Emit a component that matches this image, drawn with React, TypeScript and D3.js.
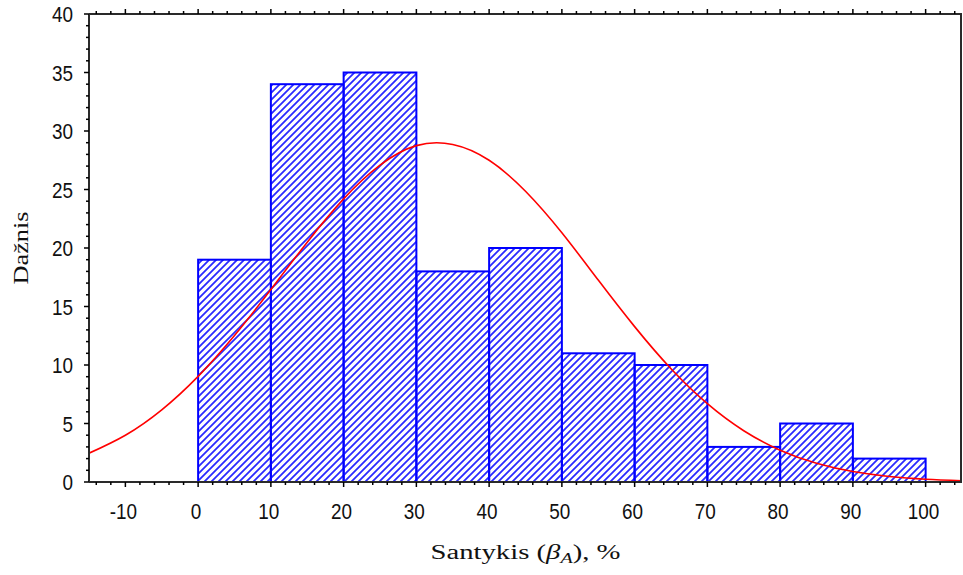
import React from "react";
import * as d3 from "d3";

const binStarts = [0, 10, 20, 30, 40, 50, 60, 70, 80, 90];
const binCounts = [19, 34, 35, 18, 20, 11, 10, 3, 5, 2];
const binWidth = 10;

const curveX = [-15, -10, -5, 0, 5, 10, 15, 20, 25, 30, 35, 40, 45, 50, 55, 60, 65, 70, 75, 80, 85, 90, 95, 100, 105];
const curveY = [2.46, 4.0, 6.17, 9.03, 12.52, 16.45, 20.5, 24.2, 27.08, 28.75, 28.85, 27.5, 24.85, 21.3, 17.26, 13.28, 9.68, 6.69, 4.38, 2.72, 1.6, 0.89, 0.47, 0.24, 0.11];

const xTicks = [-10, 0, 10, 20, 30, 40, 50, 60, 70, 80, 90, 100];
const yTicks = [0, 5, 10, 15, 20, 25, 30, 35, 40];

const W = 963;
const H = 575;
const L = 89;
const R = 962;
const T = 14;
const B = 482;

export default function App() {
  const x = d3.scaleLinear().domain([-15, 105]).range([L, R]);
  const y = d3.scaleLinear().domain([0, 40]).range([B, T]);

  const line = d3
    .line<number>()
    .x((_, i) => x(curveX[i]))
    .y((d) => y(d))
    .curve(d3.curveNatural);

  const xMinor = d3.range(-14, 105, 2);
  const yMinor = d3.range(0, 41, 1);
  const axisColor = "#2a2a2a";
  const tickFont = "'Liberation Sans', Arial, sans-serif";
  const serif = "'Liberation Serif', 'Times New Roman', serif";

  return (
    <svg width={W} height={H} style={{ position: "absolute", left: 0, top: 0, background: "#fff" }}>
      <defs>
        <pattern id="hatch" patternUnits="userSpaceOnUse" width={7} height={7}>
          <path d="M-1,1 l2,-2 M0,7 l7,-7 M6,8 l2,-2" stroke="#2a2aff" strokeWidth={1.8} />
        </pattern>
        <clipPath id="plotclip">
          <rect x={L} y={T} width={R - L} height={B - T} />
        </clipPath>
      </defs>
      <rect x={0} y={0} width={W} height={H} fill="#fff" />

      {/* bars */}
      {binStarts.map((s, i) => (
        <rect
          key={s}
          x={x(s)}
          y={y(binCounts[i])}
          width={x(s + binWidth) - x(s)}
          height={y(0) - y(binCounts[i])}
          fill="url(#hatch)"
          stroke="#0000ff"
          strokeWidth={2}
        />
      ))}

      {/* normal curve */}
      <path
        d={line(curveY) || ""}
        fill="none"
        stroke="#ff0000"
        strokeWidth={1.6}
        clipPath="url(#plotclip)"
      />

      {/* axes frame */}
      <line x1={L} x2={R} y1={T} y2={T} stroke={axisColor} strokeWidth={2} />
      <line x1={L} x2={R} y1={B} y2={B} stroke={axisColor} strokeWidth={2} />
      <line x1={L} x2={L} y1={T} y2={B} stroke={axisColor} strokeWidth={2} />
      <line x1={R - 1} x2={R - 1} y1={T} y2={B} stroke={axisColor} strokeWidth={2} />

      {/* x ticks top and bottom */}
      {xMinor.map((v) => {
        const major = v % 10 === 0;
        const len = major ? 5 : 3;
        return (
          <g key={"xt" + v}>
            <line x1={x(v)} x2={x(v)} y1={T} y2={T - len} stroke="#000" strokeWidth={1.5} />
            <line x1={x(v)} x2={x(v)} y1={B} y2={B + len} stroke="#000" strokeWidth={1.5} />
          </g>
        );
      })}

      {/* y ticks left */}
      {yMinor.map((v) => {
        const major = v % 5 === 0;
        const len = major ? 5 : 3;
        return (
          <line key={"yt" + v} x1={L} x2={L - len} y1={y(v)} y2={y(v)} stroke="#000" strokeWidth={1.5} />
        );
      })}

      {/* x tick labels */}
      {xTicks.map((v) => (
        <g key={"xl" + v} transform={`translate(${x(v) - 2},519) scale(0.86,1)`}>
          <text x={0} y={0} textAnchor="middle" fontFamily={tickFont} fontSize={22} fill="#111">
            {v}
          </text>
        </g>
      ))}

      {/* y tick labels */}
      {yTicks.map((v) => (
        <g key={"yl" + v} transform={`translate(73,${y(v) + 8}) scale(0.86,1)`}>
          <text x={0} y={0} textAnchor="end" fontFamily={tickFont} fontSize={22} fill="#111">
            {v}
          </text>
        </g>
      ))}

      {/* axis titles */}
      <text
        x={(L + R) / 2}
        y={559}
        textAnchor="middle"
        fontFamily={serif}
        fontSize={20}
        fill="#111"
        textLength={190}
        lengthAdjust="spacingAndGlyphs"
      >
        Santykis (<tspan fontStyle="italic">β</tspan>
        <tspan fontStyle="italic" fontSize={14} dy={4}>A</tspan>
        <tspan dy={-4}>), %</tspan>
      </text>
      <text
        transform={`translate(28,${(T + B) / 2}) rotate(-90)`}
        textAnchor="middle"
        fontFamily={serif}
        fontSize={20}
        fill="#111"
        textLength={73}
        lengthAdjust="spacingAndGlyphs"
      >
        Dažnis
      </text>
    </svg>
  );
}
